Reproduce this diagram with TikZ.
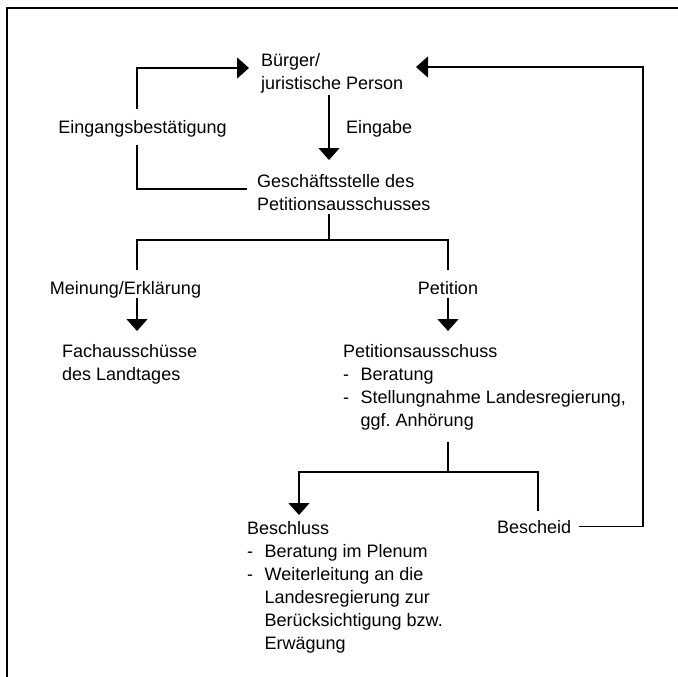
\documentclass[tikz,border=0pt]{standalone}
\usepackage{fontspec}
\setmainfont{Liberation Sans}
\usepackage{tikz}
\usetikzlibrary{arrows.meta,calc}
\frenchspacing
\newcommand{\strich}{\makebox[17.5pt][l]{-}}
\newcommand{\einzug}{\hspace*{17.5pt}}

\tikzset{
  txt/.style={inner sep=0pt, align=left, font=\fontsize{18}{23}\selectfont},
  line/.style={line width=1.1pt},
  arr/.style={line, -{Triangle[length=12pt,width=21pt]}},
}

\begin{document}
\begin{tikzpicture}[x=1pt,y=-1pt]
    \useasboundingbox (0,0) rectangle (678,677);
    % frame
    \draw[line width=2pt] (7,677) -- (7,8) -- (678,8);

    % boxes (base = baseline of the last line)
    \node[txt,anchor=base west] (buerger) at (261,89) {Bürger/\\juristische Person};
    \node[txt,anchor=base] (bestaetigung) at (142.5,133) {Eingangsbestätigung};
    \node[txt,anchor=base west] (eingabe) at (346,133) {Eingabe};
    \node[txt,anchor=base west] (stelle) at (257,210) {Geschäftsstelle des\\Petitionsausschusses};
    \node[txt,anchor=base] (meinung) at (125.5,294) {Meinung/Erklärung};
    \node[txt,anchor=base] (petition) at (448,294) {Petition};
    \node[txt,anchor=base west] (fach) at (62,380) {Fachausschüsse\\des Landtages};
    \node[txt,anchor=base west] (ausschuss) at (343,426)
        {Petitionsausschuss\\\strich Beratung\\\strich Stellungnahme Landesregierung,\\\einzug ggf. Anhörung};
    \node[txt,anchor=base west] (beschluss) at (247,649)
        {Beschluss\\\strich Beratung im Plenum\\\strich Weiterleitung an die\\\einzug Landesregierung zur\\\einzug Berücksichtigung bzw.\\\einzug Erwägung};
    \node[txt,anchor=base west] (bescheid) at (497,533) {Bescheid};

    % Eingangsbestaetigung
    \draw[arr] (137,109) |- ($(buerger.base west)+(-12,-21)$);
    \draw[line] (137,145) |- ($(stelle.base west)+(-10,-21)$);

    % Eingabe
    \draw[arr] (329,95) -- (329,160);

    % Verzweigung
    \draw[line] (329,214) -- (329,240);
    \draw[line] (137,270) |- (448,240) -- (448,270);
    \draw[arr] (137,298) -- (137,331);
    \draw[arr] (448,298) -- (448,331);

    % Ausschuss
    \draw[line] (448,442) -- (448,472);
    \draw[arr] (538,511) |- (299,472) -- (299,515);

    % Bescheid zurueck
    \draw[arr] ([xshift=8pt]bescheid.east) -| (643,67) -- (416,67);
\end{tikzpicture}
\end{document}
